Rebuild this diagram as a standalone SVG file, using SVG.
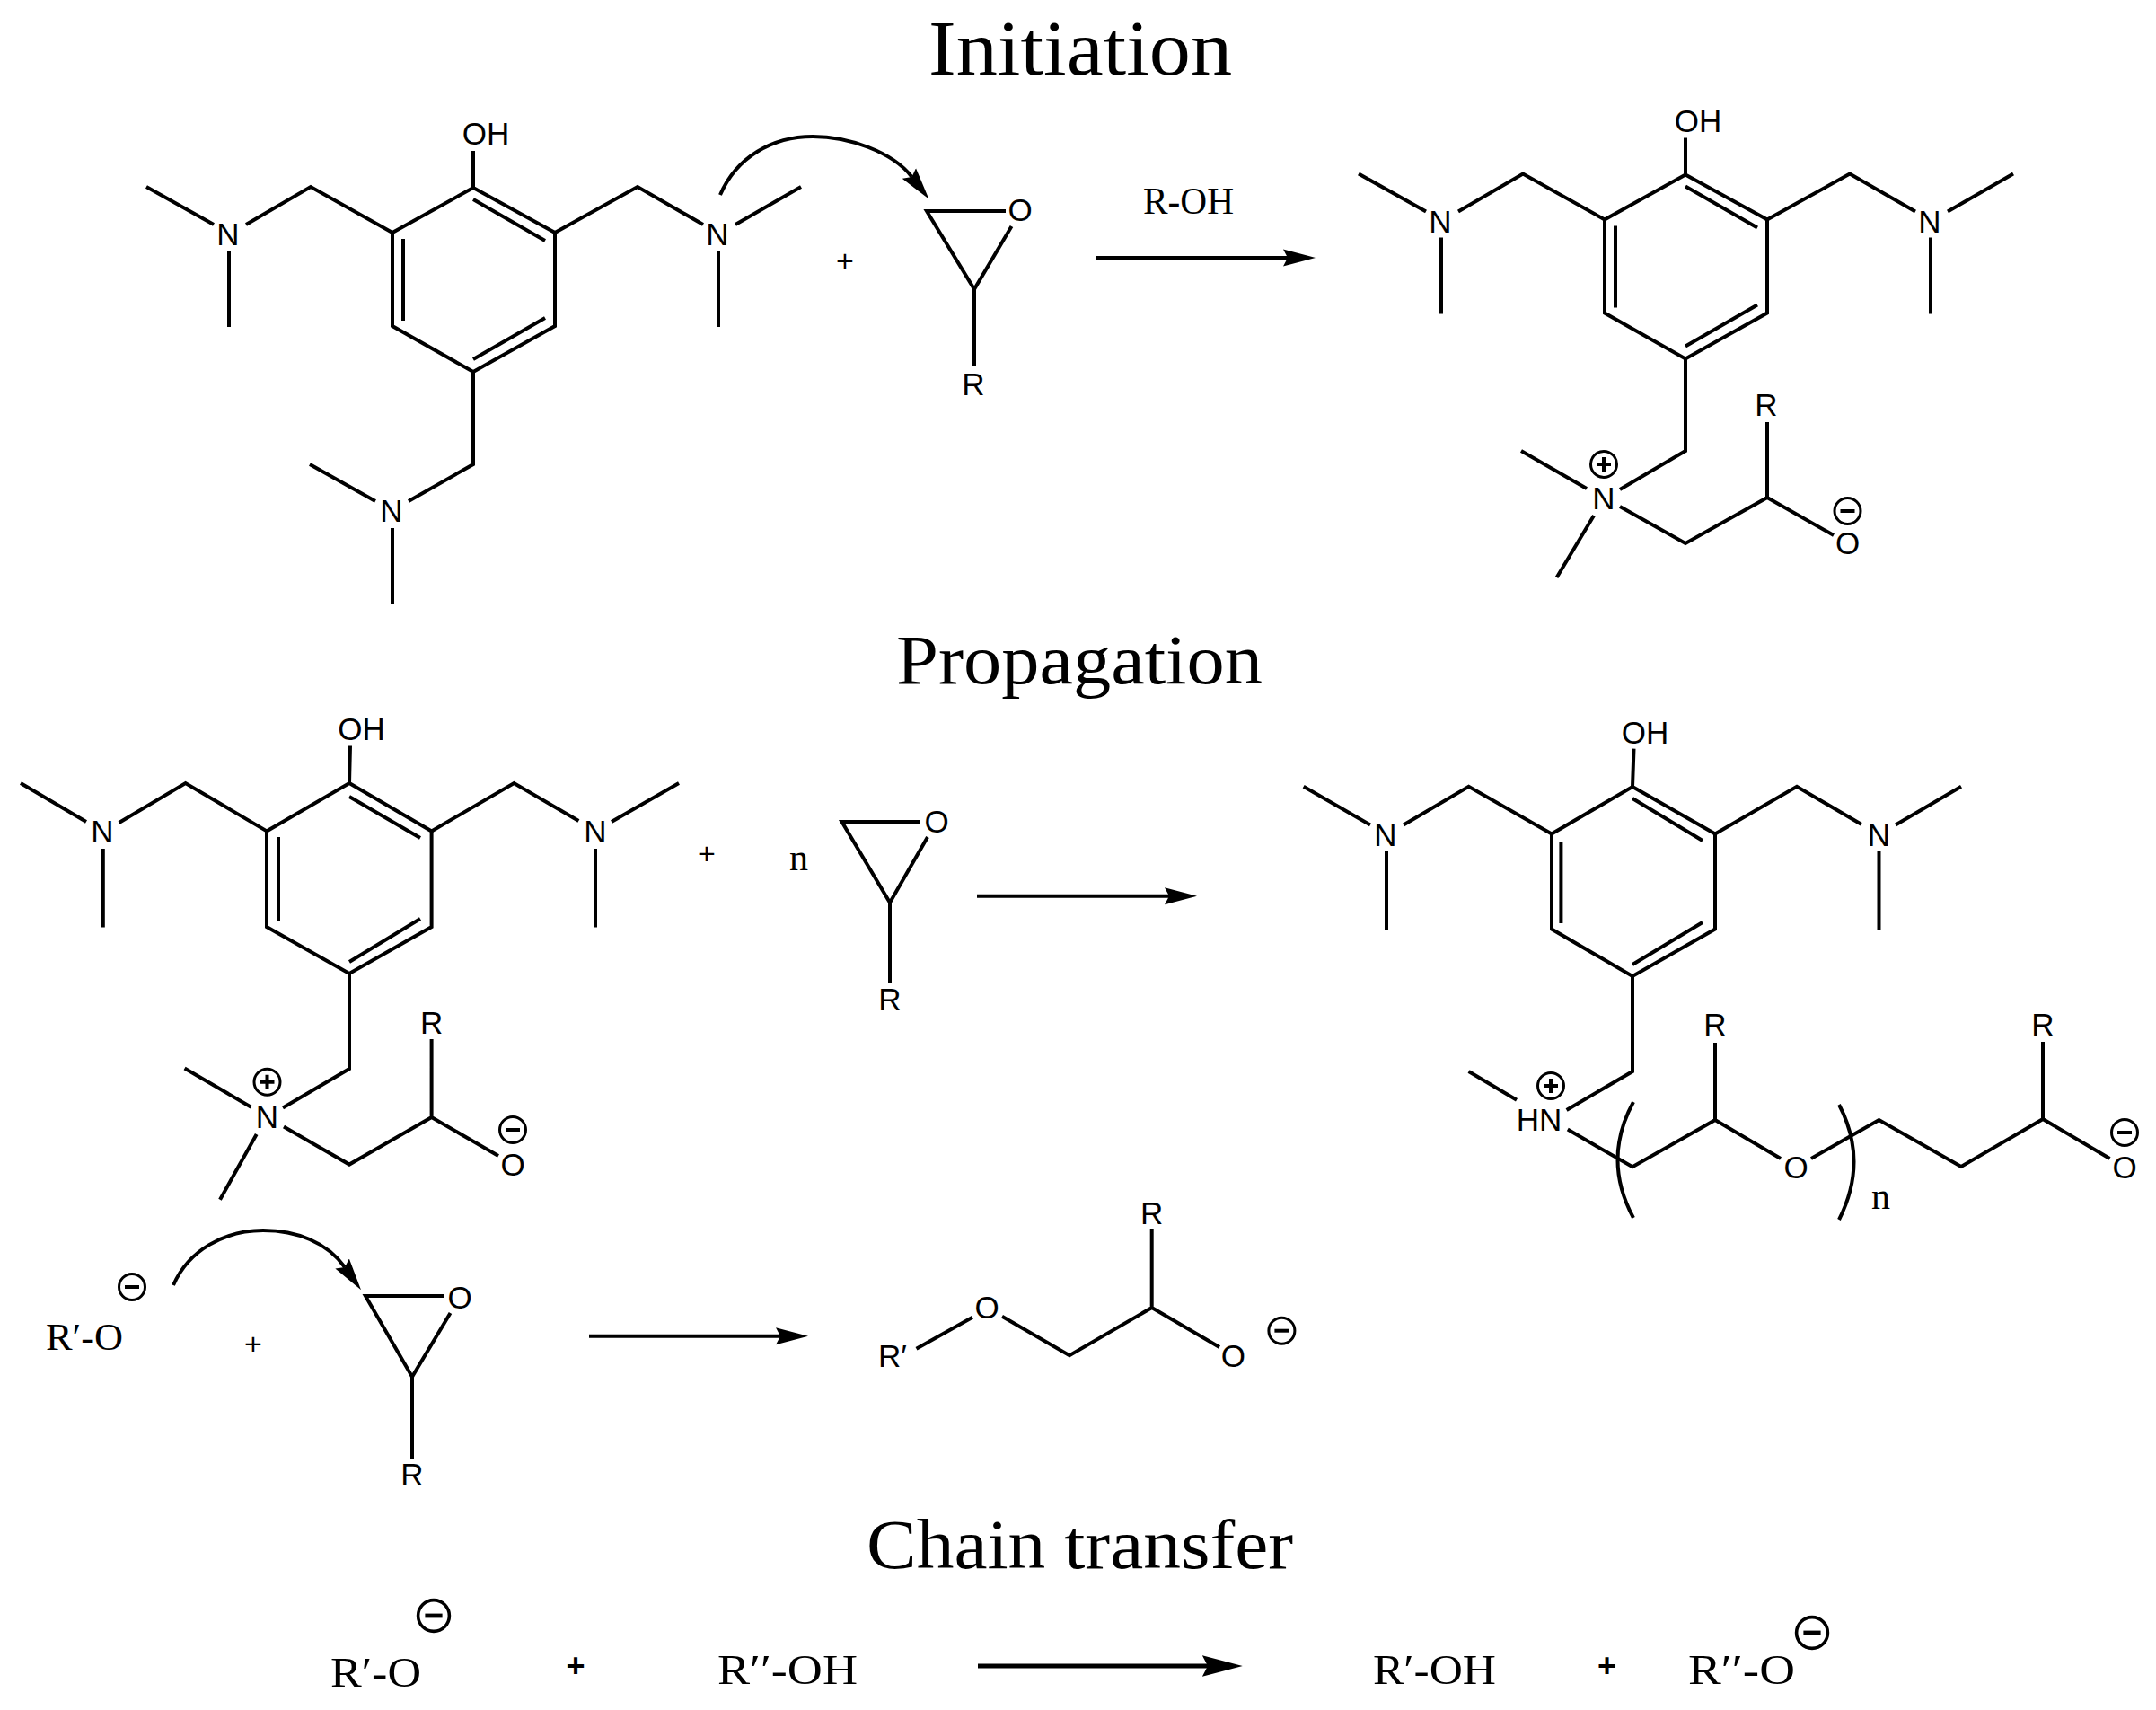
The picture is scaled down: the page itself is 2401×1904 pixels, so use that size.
<svg xmlns="http://www.w3.org/2000/svg" xmlns:xlink="http://www.w3.org/1999/xlink" width="2401" height="1904" viewBox="0 0 2401 1904">
<style>
.b{fill:none;stroke:#000;stroke-width:4;stroke-linejoin:miter;stroke-linecap:butt}
.a{font-family:"Liberation Sans",Arial,sans-serif;font-size:35px;fill:#000;text-anchor:middle}
.s{font-family:"Liberation Serif","Times New Roman",serif;font-size:42px;fill:#000}
.h{font-family:"Liberation Serif","Times New Roman",serif;font-size:82px;fill:#000}
.p{font-family:"Liberation Sans",Arial,sans-serif;font-size:34px;fill:#000;text-anchor:middle}
.pb{font-family:"Liberation Sans",Arial,sans-serif;font-size:36px;font-weight:bold;fill:#000;text-anchor:middle}
.ar{fill:none;stroke:#000;stroke-width:4;marker-end:url(#head)}
.cu{fill:none;stroke:#000;stroke-width:4;marker-end:url(#head)}
.c{fill:none;stroke:#000;stroke-width:3}
.m{fill:none;stroke:#000;stroke-width:4}
</style>
<defs>
<marker id="head" viewBox="0 -10 36 20" markerWidth="9" markerHeight="5" refX="5" refY="0" orient="auto" markerUnits="strokeWidth"><path d="M0,-9.5 L36,0 L0,9.5 L5,0Z" fill="#000"/></marker>
<g id="minus"><circle class="c" r="14.5"/><path class="m" d="M-8,0H8"/></g>
<g id="plus"><circle class="c" r="14.5"/><path class="m" d="M-8,0H8M0,-8V8"/></g>
</defs>
<rect width="2401" height="1904" fill="#fff"/>

<g id="titles">
<text class="h" x="1034" y="83" style="font-size:86px" textLength="338" lengthAdjust="spacingAndGlyphs">Initiation</text>
<text class="h" x="998" y="761" style="font-size:78px" textLength="408" lengthAdjust="spacingAndGlyphs">Propagation</text>
<text class="h" x="965" y="1746" style="font-size:78px" textLength="475" lengthAdjust="spacingAndGlyphs">Chain transfer</text>
</g>

<g id="connectors">
<path class="cu" d="M802,217 C820,175 860,152 905,152 C945,152 994,169 1015.5,197"/>
<path class="ar" d="M1220,287 H1434"/>
<path class="ar" d="M1088,997.7 H1302"/>
<path class="cu" d="M193,1431 C210,1392 250,1370 293,1370 C330,1370 364,1383 384,1411"/>
<path class="ar" d="M656,1487.7 H869"/>
<path class="ar" style="stroke-width:5" d="M1089,1855 H1345"/>
</g>

<g id="mol-initiator">
<path class="b" d="M527,209L618,259V363L527,414L437,363V259Z"/>
<path class="b" d="M527,222L607,268M449,266V357M527,400L607,354M527,209V168"/>
<path class="b" d="M437,259L346,208L274,250M163,208L238,250M255,279V364"/>
<path class="b" d="M618,259L710,208L783,250M819,250L892,208M800,279V364"/>
<path class="b" d="M527,414V517L455,558M345,517L418,558M437,588V672"/>
<text class="a" x="541" y="161">OH</text>
<text class="a" x="254" y="273">N</text>
<text class="a" x="799" y="273">N</text>
<text class="a" x="436" y="581">N</text>
</g>

<g id="plus-1"><text class="p" x="941" y="302">+</text></g>

<g id="epoxide-1">
<path class="b" d="M1120,235H1032L1085,322L1126.5,252M1085,322V407"/>
<text class="a" x="1136" y="246">O</text>
<text class="a" x="1084" y="440">R</text>
</g>

<g id="label-roh"><text class="s" x="1273" y="238" textLength="101" lengthAdjust="spacingAndGlyphs">R-OH</text></g>

<g id="mol-product-1">
<g transform="translate(1350,-14.5)">
<path class="b" d="M527,209L618,259V363L527,414L437,363V259Z"/>
<path class="b" d="M527,222L607,268M449,266V357M527,400L607,354M527,209V168"/>
<path class="b" d="M437,259L346,208L274,250M163,208L238,250M255,279V364"/>
<path class="b" d="M618,259L710,208L783,250M819,250L892,208M800,279V364"/>
<text class="a" x="541" y="161">OH</text>
<text class="a" x="254" y="273">N</text>
<text class="a" x="799" y="273">N</text>
</g>
<path class="b" d="M1877,399V502L1804,545M1694,502L1767,544M1775,574L1733.6,643M1804,564L1877,605L1968,554V470M1968,554L2042,596"/>
<text class="a" x="1786" y="567">N</text>
<text class="a" x="1967" y="463">R</text>
<text class="a" x="2057.5" y="617">O</text>
<use href="#plus" x="1786" y="517"/>
<use href="#minus" x="2057.5" y="569"/>
</g>

<g id="mol-active">
<path class="b" d="M389,872L480.6,925.4V1032L389,1084L297,1032V925.4Z"/>
<path class="b" d="M389,887L468,933M310,932V1025M389,1071L468,1023M389,872L390,830.5"/>
<path class="b" d="M297,925.4L206.6,872L132.6,916M23,872L96,915M114.8,945V1032.6"/>
<path class="b" d="M480.6,925.4L572.4,872L644.4,914M681,915L756,872M663,945V1032.6"/>
<path class="b" d="M389,1084V1190L315,1233.5M205.6,1189.5L279.6,1232.7M285.7,1263L245,1335.7M316,1254.6L389,1296.6L480.6,1244V1157M480.6,1244L555,1287"/>
<text class="a" x="402.5" y="824">OH</text>
<text class="a" x="114" y="938.4">N</text>
<text class="a" x="663" y="938.4">N</text>
<text class="a" x="297.5" y="1255.7">N</text>
<text class="a" x="480.6" y="1150.5">R</text>
<text class="a" x="571" y="1309">O</text>
<use href="#plus" x="297.5" y="1204.8"/>
<use href="#minus" x="571" y="1258"/>
</g>

<g id="plus-2"><text class="p" x="787" y="962">+</text></g>
<g id="label-n"><text class="s" x="879" y="969">n</text></g>

<g id="epoxide-2">
<path class="b" d="M1025,915H937.5L991,1005L1033,932M991,1005V1095"/>
<text class="a" x="1043" y="927">O</text>
<text class="a" x="991" y="1125">R</text>
</g>

<g id="mol-product-2">
<path class="b" d="M1818,876L1910,928.5V1034.5L1818,1087L1728,1034.5V928.5Z"/>
<path class="b" d="M1818,889L1896,936M1738.4,937V1028M1818,1074L1896,1027M1818,876L1819.5,833.6"/>
<path class="b" d="M1728,928.5L1635.6,875.7L1563,918.5M1451.7,875.7L1526,918.5M1544,947.6V1035.6"/>
<path class="b" d="M1910,928.5L2001,875.7L2072.7,917.8M2111,918.5L2184,875.7M2092.5,947.6V1035.6"/>
<path class="b" d="M1818,1087V1193L1744.6,1236M1635.6,1193L1689,1224.7M1745.8,1257.6L1818,1299.3L1910,1247V1161M1910,1247L1983,1290M2017,1290L2092.5,1247L2184,1299L2275,1246V1160M2275,1246L2349.5,1290"/>
<path class="b" d="M1819,1227Q1784,1291 1819,1356M2048,1230Q2081,1293 2048,1358"/>
<text class="a" x="1714" y="1259">HN</text>
<text class="a" x="1832" y="828">OH</text>
<text class="a" x="1543" y="941.5">N</text>
<text class="a" x="2092.5" y="941.5">N</text>
<text class="a" x="1910" y="1153">R</text>
<text class="a" x="2275" y="1153">R</text>
<text class="a" x="2000" y="1312">O</text>
<text class="a" x="2366" y="1312">O</text>
<text class="s" x="2084" y="1346">n</text>
<use href="#plus" x="1727" y="1209"/>
<use href="#minus" x="2366" y="1261"/>
</g>

<g id="alkoxide">
<text class="s" x="51" y="1503" textLength="86" lengthAdjust="spacingAndGlyphs">R′-O</text>
<use href="#minus" x="147" y="1433"/>
</g>
<g id="plus-3"><text class="p" x="282" y="1508">+</text></g>

<g id="epoxide-3">
<path class="b" d="M494,1443H407L459,1533L501.5,1462M459,1533V1625"/>
<text class="a" x="512" y="1457">O</text>
<text class="a" x="459" y="1654">R</text>
</g>

<g id="mol-chain">
<path class="b" d="M1020.5,1501.7L1083,1466.7M1116,1465.7L1191,1509.3L1282.7,1456V1368M1282.7,1456L1358,1500"/>
<text class="a" x="978" y="1522" style="text-anchor:start">R′</text>
<text class="a" x="1099" y="1468">O</text>
<text class="a" x="1282.7" y="1362.7">R</text>
<text class="a" x="1373.4" y="1522">O</text>
<use href="#minus" x="1427.4" y="1481.7"/>
</g>

<g id="chain-transfer">
<text class="s" x="368" y="1878" style="font-size:47px" textLength="101" lengthAdjust="spacingAndGlyphs">R′-O</text>
<use href="#minus" transform="translate(483,1799) scale(1.2)"/>
<text class="pb" x="641" y="1867">+</text>
<text class="s" x="799" y="1875" style="font-size:47px" textLength="156" lengthAdjust="spacingAndGlyphs">R′′-OH</text>
<text class="s" x="1529" y="1875" style="font-size:47px" textLength="137" lengthAdjust="spacingAndGlyphs">R′-OH</text>
<text class="pb" x="1789.5" y="1867">+</text>
<text class="s" x="1880" y="1875" style="font-size:47px" textLength="119" lengthAdjust="spacingAndGlyphs">R′′-O</text>
<use href="#minus" transform="translate(2018,1818) scale(1.2)"/>
</g>
</svg>
